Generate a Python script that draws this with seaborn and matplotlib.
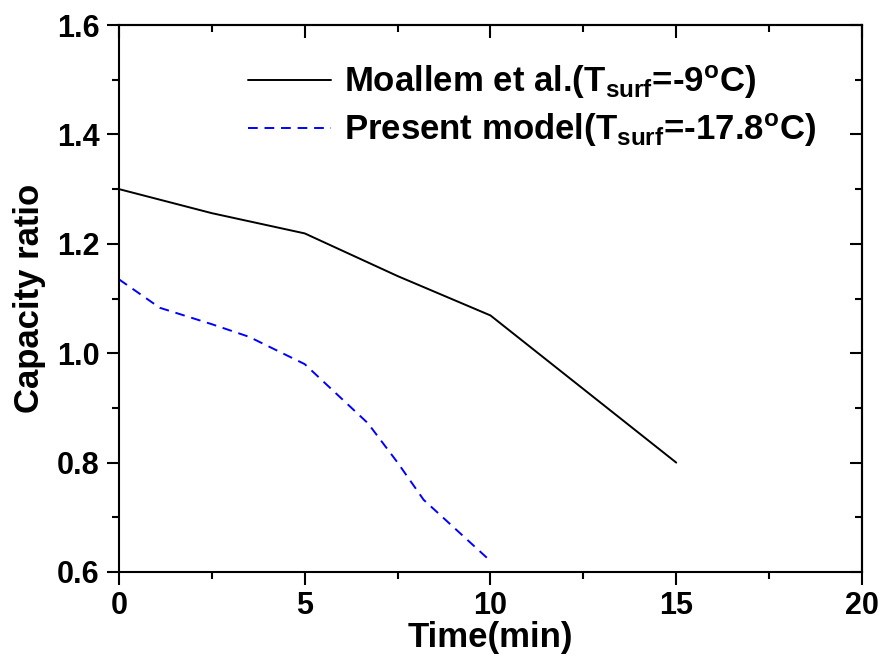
import matplotlib
matplotlib.use("Agg")
import matplotlib.pyplot as plt
from matplotlib.ticker import MultipleLocator
import seaborn as sns
import pandas as pd

# data
moallem_time = [0, 2.5, 5, 7.5, 10, 15]
moallem_ratio = [1.300, 1.256, 1.219, 1.141, 1.069, 0.800]
model_time = [0, 1.1, 2.5, 3.5, 5, 6.7, 7.5, 8.2, 10]
model_ratio = [1.135, 1.083, 1.053, 1.030, 0.980, 0.872, 0.800, 0.732, 0.620]

label_moallem = r"Moallem et al.(T$_{\mathbf{surf}}$=-9$^{\mathbf{o}}$C)"
label_model = r"Present model(T$_{\mathbf{surf}}$=-17.8$^{\mathbf{o}}$C)"

sns.set_theme(style="white")
plt.rcParams["font.family"] = ["Liberation Sans", "DejaVu Sans"]
plt.rcParams["font.weight"] = "bold"
plt.rcParams["text.color"] = "black"
plt.rcParams["axes.labelcolor"] = "black"
plt.rcParams["xtick.color"] = "black"
plt.rcParams["ytick.color"] = "black"
plt.rcParams["mathtext.fontset"] = "custom"
plt.rcParams["mathtext.rm"] = "Liberation Sans:bold"
plt.rcParams["mathtext.it"] = "Liberation Sans:bold"
plt.rcParams["mathtext.bf"] = "Liberation Sans:bold"

df1 = pd.DataFrame({"t": moallem_time, "r": moallem_ratio})
df2 = pd.DataFrame({"t": model_time, "r": model_ratio})

fig = plt.figure(figsize=(8.86, 6.58), dpi=100)
ax = fig.add_axes([0.1343, 0.1307, 0.8386, 0.8313])

sns.lineplot(data=df1, x="t", y="r", ax=ax, color="black", lw=1.4,
             label=label_moallem, sort=False)
sns.lineplot(data=df2, x="t", y="r", ax=ax, color="#0000ff", lw=1.4,
             linestyle=(0, (5, 3.5)), label=label_model, sort=False)

ax.set_xlim(0, 20)
ax.set_ylim(0.6, 1.6)
ax.xaxis.set_major_locator(MultipleLocator(5))
ax.xaxis.set_minor_locator(MultipleLocator(2.5))
ax.yaxis.set_major_locator(MultipleLocator(0.2))
ax.yaxis.set_minor_locator(MultipleLocator(0.1))
ax.yaxis.set_major_formatter(matplotlib.ticker.FormatStrFormatter("%.1f"))

for s in ax.spines.values():
    s.set_color("black")
    s.set_linewidth(1.5)

ax.tick_params(which="both", direction="out", colors="black", width=1.5,
               bottom=True, left=True, top=False, right=False)
ax.tick_params(which="major", length=9, labelsize=22, pad=5)
ax.tick_params(which="minor", length=5)
for lab in ax.get_xticklabels() + ax.get_yticklabels():
    lab.set_fontweight("bold")
    lab.set_color("black")

# mirrored inward ticks on top/right
ax2 = ax.secondary_xaxis("top")
ax2.xaxis.set_major_locator(MultipleLocator(5))
ax2.xaxis.set_minor_locator(MultipleLocator(2.5))
ax2.tick_params(which="both", direction="in", width=1.5, labeltop=False, colors="black")
ax2.tick_params(which="major", length=9)
ax2.tick_params(which="minor", length=5)
ax3 = ax.secondary_yaxis("right")
ax3.yaxis.set_major_locator(MultipleLocator(0.2))
ax3.yaxis.set_minor_locator(MultipleLocator(0.1))
ax3.tick_params(which="both", direction="in", width=1.5, labelright=False, colors="black")
ax3.tick_params(which="major", length=9)
ax3.tick_params(which="minor", length=5)
for s in list(ax2.spines.values()) + list(ax3.spines.values()):
    s.set_linewidth(1.5)
    s.set_color("black")

ax.set_xlabel("Time(min)", fontsize=25, fontweight="bold", labelpad=0, color="black")
ax.set_ylabel("Capacity ratio", fontsize=25, fontweight="bold", labelpad=8, color="black")

leg = ax.legend(loc="upper left", bbox_to_anchor=(0.155, 0.955), frameon=False,
                fontsize=25, handlelength=2.4, handletextpad=0.35,
                labelspacing=0.3, borderaxespad=0)
for t in leg.get_texts():
    t.set_fontweight("bold")
    t.set_color("black")

fig.savefig("out.png", dpi=100)
